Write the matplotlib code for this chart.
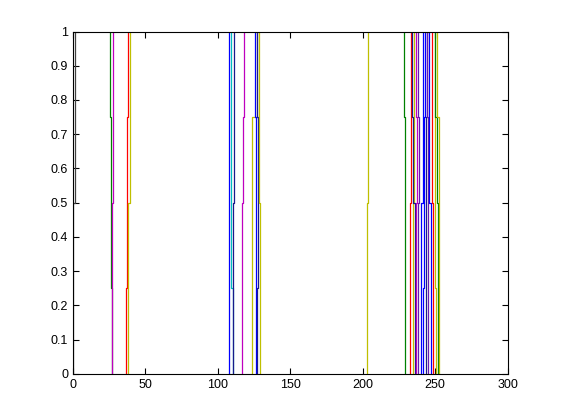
import matplotlib
matplotlib.use("Agg")
import matplotlib.pyplot as plt
import numpy as np

plt.rcParams['font.family'] = ['Liberation Sans', 'DejaVu Sans']

# y levels of each staircase
levels = [0.0, 0.25, 0.5, 0.75, 1.0]

# Each series: x position for the segments [0-.25], [.25-.5], [.5-.75], [.75-1]
blue = (0, 0, 1)
green = (0, 0.5, 0)
red = (1, 0, 0)
cyan = (0, 0.75, 0.75)
magenta = (0.75, 0, 0.75)
yellow = (0.75, 0.75, 0)
dark = (0.25, 0.25, 0.25)
navy = (0.1, 0.1, 0.55)
purple = (0.4, 0.1, 0.7)

series_x = [
    [0.0, 0.0, 1.2, 1.2],
    [27.3, 26.0, 26.0, 25.5],
    [27.3, 27.3, 27.8, 27.8],
    [36.5, 37.0, 37.0, 38.0],
    [38.3, 38.3, 39.5, 39.5],
    [107.4, 107.6, 108.0, 108.0],
    [110.4, 108.8, 108.8, 108.8],
    [110.4, 110.5, 111.0, 111.4],
    [116.5, 117.0, 117.6, 118.3],
    [123.7, 123.9, 123.9, 127.0],
    [126.0, 126.5, 126.0, 125.8],
    [127.2, 127.8, 127.8, 127.0],
    [128.9, 128.9, 128.6, 128.6],
    [203.2, 203.2, 203.8, 203.8],
    [229.1, 229.4, 229.4, 228.3],
    [232.8, 232.8, 233.3, 233.3],
    [234.6, 234.6, 235.2, 235.2],
    [235.8, 235.8, 234.5, 234.2],
    [237.0, 237.0, 237.5, 236.5],
    [238.3, 238.3, 238.5, 237.8],
    [240.0, 240.5, 241.5, 241.5],
    [241.8, 242.3, 242.5, 243.0],
    [243.5, 243.8, 243.5, 244.0],
    [245.3, 245.3, 245.0, 244.5],
    [246.8, 246.8, 246.0, 246.0],
    [248.5, 248.5, 248.0, 247.8],
    [250.3, 250.0, 249.5, 249.5],
    [252.0, 251.8, 251.2, 250.0],
    [252.5, 252.5, 252.3, 251.2],
]
series_colors = [
    dark, green, magenta, red, yellow,
    blue, cyan, navy, magenta, yellow, blue, navy, yellow,
    yellow,
    green, red, yellow, navy, magenta, purple, blue, blue, navy,
    purple, blue, red, yellow, green, yellow,
]

xticks = [0, 50, 100, 150, 200, 250, 300]
yticks = [0, 0.1, 0.2, 0.3, 0.4, 0.5, 0.6, 0.7, 0.8, 0.9, 1]
yticklabels = ['0', '0.1', '0.2', '0.3', '0.4', '0.5', '0.6', '0.7', '0.8', '0.9', '1']

fig = plt.figure(figsize=(5.61, 4.2), dpi=100)
ax = fig.add_axes([0.13, 0.11, 0.775, 0.815])

for xs, c in zip(series_x, series_colors):
    px = np.repeat(xs, 2)
    py = np.repeat(levels, 2)[1:-1]
    ax.plot(px, py, color=c, linewidth=0.9)

ax.set_xlim(0, 300)
ax.set_ylim(0, 1)
ax.set_xticks(xticks)
ax.set_yticks(yticks)
ax.set_yticklabels(yticklabels)
ax.tick_params(direction='in', top=True, right=True, length=4, labelsize=9, width=0.8)
for s in ax.spines.values():
    s.set_linewidth(0.8)

fig.savefig('out.png', dpi=100)
